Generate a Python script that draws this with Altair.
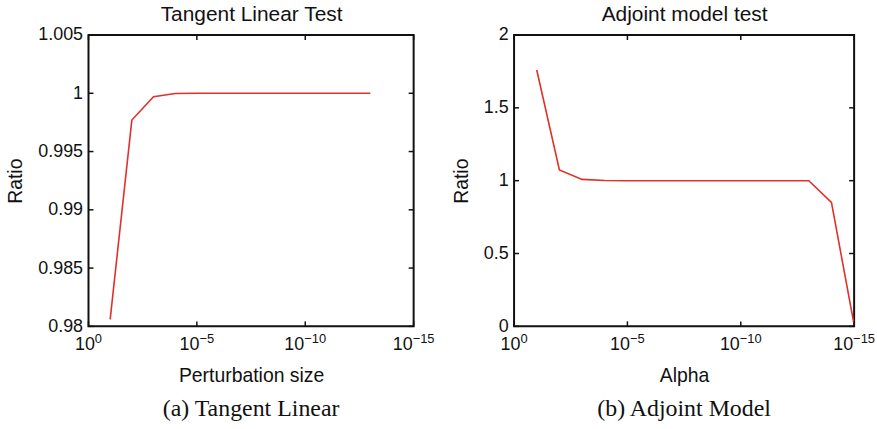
import altair as alt
import pandas as pd

# ---- data ----
TL_SIZE = [1e-1, 1e-2, 1e-3, 1e-4, 1e-5, 1e-6, 1e-7, 1e-8, 1e-9, 1e-10, 1e-11, 1e-12, 1e-13]
TL_RATIO = [0.9806, 0.9977, 0.9997, 0.99998, 1.0, 1.0, 1.0, 1.0, 1.0, 1.0, 1.0, 1.0, 1.0]

AD_ALPHA = [1e-1, 1e-2, 1e-3, 1e-4, 1e-5, 1e-6, 1e-7, 1e-8, 1e-9, 1e-10, 1e-11, 1e-12, 1e-13, 1e-14, 1e-15]
AD_RATIO = [1.76, 1.074, 1.009, 1.001, 1.0, 1.0, 1.0, 1.0, 1.0, 1.0, 1.0, 1.0, 1.0, 0.851, 0.01]

X_TICKS = [1, 1e-5, 1e-10, 1e-15]
X_TICK_BASE = "10"
X_TICK_EXP = ["0", "\u22125", "\u221210", "\u221215"]

TL_Y_TICKS = [0.98, 0.985, 0.99, 0.995, 1.0, 1.005]
AD_Y_TICKS = [0.0, 0.5, 1.0, 1.5, 2.0]

LINE_COLOR = "#e0302a"
INK = "#111111"
SANS = "Liberation Sans"
SERIF = "Liberation Serif"
H = 293
BASE_FS = 18
EXP_FS = 13


def text_width(s, fs):
    # rough Arial advance widths, used only to centre "10" + exponent under a tick
    w = 0.0
    for ch in s:
        w += 0.584 if ch == "\u2212" else 0.556
    return w * fs


def panel(df, ydomain, yticks, yfmt, xtitle, top_title, caption, width):
    xs = alt.Scale(type="log", domain=[1e-15, 1], reverse=True)
    ys = alt.Scale(domain=ydomain, nice=False, zero=False)

    main = alt.Chart(df).mark_line(color=LINE_COLOR, strokeWidth=1.6).encode(
        x=alt.X("x:Q", scale=xs, axis=alt.Axis(
            orient="bottom", labels=False, ticks=False, domain=False, grid=False,
            title=xtitle, titlePadding=40, titleFontSize=19.5, titleFont=SANS,
            titleFontWeight="normal", titleColor=INK)),
        y=alt.Y("y:Q", scale=ys, axis=alt.Axis(
            orient="left", values=yticks, format=yfmt, ticks=False, domain=False,
            grid=False, labelPadding=6, title="Ratio", titlePadding=12,
            labelFontSize=BASE_FS, titleFontSize=19.5, labelFont=SANS, titleFont=SANS,
            titleFontWeight="normal", labelColor=INK, titleColor=INK)),
    )

    # invisible layer that only carries the top axis title
    top = alt.Chart(df).mark_line(strokeOpacity=0).encode(
        x=alt.X("x:Q", scale=xs, axis=alt.Axis(
            orient="top", labels=False, ticks=False, domain=False, grid=False,
            title=top_title, titleFontSize=21, titleFont=SANS, titleFontWeight="normal",
            titleColor=INK, titlePadding=11)),
        y=alt.Y("y:Q", scale=ys, axis=None),
    )

    xt = pd.DataFrame({"v": X_TICKS})
    yt = pd.DataFrame({"v": yticks})
    tick_style = dict(color=INK, strokeWidth=1.5)
    xe = alt.X("v:Q", scale=xs, axis=None)
    ye = alt.Y("v:Q", scale=ys, axis=None)
    ticks = [
        alt.Chart(xt).mark_rule(**tick_style).encode(x=xe, y=alt.value(H), y2=alt.value(H - 5)),
        alt.Chart(xt).mark_rule(**tick_style).encode(x=xe, y=alt.value(0), y2=alt.value(5)),
        alt.Chart(yt).mark_rule(**tick_style).encode(y=ye, x=alt.value(0), x2=alt.value(5)),
        alt.Chart(yt).mark_rule(**tick_style).encode(y=ye, x=alt.value(width - 5), x2=alt.value(width)),
    ]

    labels = []
    w10 = text_width(X_TICK_BASE, BASE_FS)
    for v, e in zip(X_TICKS, X_TICK_EXP):
        shift = (w10 - text_width(e, EXP_FS)) / 2
        d = pd.DataFrame({"v": [v], "b": [X_TICK_BASE], "e": [e]})
        labels.append(alt.Chart(d).mark_text(
            align="right", baseline="alphabetic", dx=shift, font=SANS,
            fontSize=BASE_FS, color=INK).encode(x=xe, y=alt.value(H + 24), text="b:N"))
        labels.append(alt.Chart(d).mark_text(
            align="left", baseline="alphabetic", dx=shift, font=SANS,
            fontSize=EXP_FS, color=INK).encode(x=xe, y=alt.value(H + 17), text="e:N"))

    return alt.layer(main, top, *ticks, *labels).resolve_axis(
        x="independent", y="independent"
    ).properties(
        width=width, height=H,
        title=alt.TitleParams(caption, orient="bottom", font=SERIF, fontSize=24,
                              fontWeight="normal", color=INK, offset=13),
    )


tl = pd.DataFrame({"x": TL_SIZE, "y": TL_RATIO})
ad = pd.DataFrame({"x": AD_ALPHA, "y": AD_RATIO})

left = panel(tl, [0.98, 1.005], TL_Y_TICKS, ".4~f", "Perturbation size",
             "Tangent Linear Test", "(a) Tangent Linear", 327)
right = panel(ad, [0, 2], AD_Y_TICKS, ".1~f", "Alpha",
              "Adjoint model test", "(b) Adjoint Model", 342)

chart = alt.hconcat(left, right, spacing=13).properties(
    padding={"left": 4, "top": 1, "right": 0, "bottom": 0}
).configure_view(stroke=INK, strokeWidth=2)

chart.save("out.html", embed_options={"renderer": "svg", "actions": False})
